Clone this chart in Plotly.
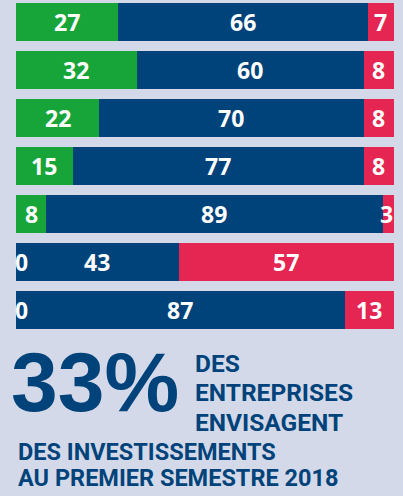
import plotly.graph_objects as go

# ---- data ----
rows = [0, 1, 2, 3, 4, 5, 6]
green_vals = [27, 32, 22, 15, 8, 0, 0]
blue_vals = [66, 60, 70, 77, 89, 43, 87]
red_vals = [7, 8, 8, 8, 3, 57, 13]

headline_value = "33%"
headline_lines_right = ["DES", "ENTREPRISES", "ENVISAGENT"]
headline_lines_bottom = ["DES INVESTISSEMENTS", "AU PREMIER SEMESTRE 2018"]

# ---- style ----
W, H = 403, 496
BG = "#d4d9e9"
GREEN = "#17a53a"
BLUE = "#00437a"
RED = "#e62652"
LABEL_FONT = dict(family="Open Sans, Liberation Sans, sans-serif", size=23, color="white", weight=700)
NARROW = "Roboto, Liberation Sans, sans-serif"

fig = go.Figure()
series = [(green_vals, GREEN), (blue_vals, BLUE), (red_vals, RED)]
for vals, col in series:
    fig.add_trace(go.Bar(
        y=rows, x=vals, orientation="h", marker=dict(color=col, line=dict(width=0)),
        width=0.79, hoverinfo="skip", showlegend=False,
    ))

annotations = []
for i in range(len(rows)):
    start = 0
    for vals, _ in series:
        v = vals[i]
        if v == 0:
            annotations.append(dict(x=start, y=rows[i], xref="x", yref="y", text=str(v),
                                    showarrow=False, xanchor="left", xshift=-3, font=LABEL_FONT))
        elif start + v >= 100 and v < 5:
            annotations.append(dict(x=start + v, y=rows[i], xref="x", yref="y", text=str(v),
                                    showarrow=False, xanchor="right", xshift=1, font=LABEL_FONT))
        else:
            annotations.append(dict(x=start + v / 2, y=rows[i], xref="x", yref="y", text=str(v),
                                    showarrow=False, xanchor="center", font=LABEL_FONT))
        start += v

def px(x):
    return x / W

def py(y):
    return 1 - y / H

annotations.append(dict(x=px(9), y=py(382), xref="paper", yref="paper", text="<b>%s</b>" % headline_value,
                        showarrow=False, xanchor="left", yanchor="middle",
                        font=dict(family="Liberation Sans, Arial, sans-serif", size=84, color=BLUE)))
for k, line in enumerate(headline_lines_right):
    annotations.append(dict(x=px(193), y=py(363 + k * 29.5), xref="paper", yref="paper",
                            text="<b>%s</b>" % line, showarrow=False, xanchor="left", yanchor="middle",
                            font=dict(family=NARROW, size=24.5, color=BLUE)))
for k, line in enumerate(headline_lines_bottom):
    annotations.append(dict(x=px(16), y=py(452 + k * 25.5), xref="paper", yref="paper",
                            text="<b>%s</b>" % line, showarrow=False, xanchor="left", yanchor="middle",
                            font=dict(family=NARROW, size=23.5, color=BLUE)))

top_val = 0 - 22 / 48
bot_val = top_val + 336 / 48
fig.update_layout(
    width=W, height=H, paper_bgcolor=BG, plot_bgcolor=BG,
    margin=dict(l=0, r=0, t=0, b=0), barmode="stack", bargap=0,
    xaxis=dict(domain=[16 / W, 394 / W], range=[0, 100], visible=False, fixedrange=True),
    yaxis=dict(domain=[1 - 336 / H, 1], range=[bot_val, top_val], visible=False, fixedrange=True),
    annotations=annotations,
)
fig.write_html("out.html", config={"displayModeBar": False, "staticPlot": True},
               post_script="document.body.style.margin='0';document.body.style.overflow='hidden';")
